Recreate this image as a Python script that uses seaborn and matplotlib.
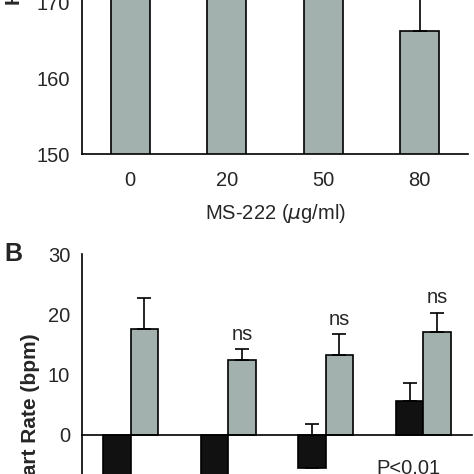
import matplotlib
matplotlib.use("Agg")
import matplotlib.pyplot as plt
import seaborn as sns
import pandas as pd
import numpy as np

sns.set_style("white")
plt.rcParams['font.family'] = ['Liberation Sans', 'DejaVu Sans']

doses = ["0", "20", "50", "80"]
top_vals = [175.0, 174.5, 175.5, 166.3]
top_err = [3.0, 3.0, 3.0, 7.0]

series = ["Before", "After"]
black_vals = [-10.0, -10.0, -5.5, 5.7]
black_err = [3.0, 3.0, 7.3, 2.9]
gray_vals = [17.6, 12.5, 13.2, 17.1]
gray_err = [5.2, 1.7, 3.5, 3.2]
ns_labels = ["", "ns", "ns", "ns"]

GRAY = "#a3b1ae"
FS = 14.5
fig = plt.figure(figsize=(4.74, 4.74), dpi=100)

# ---- Panel A ----
axA = fig.add_axes([82/474, 1-154/474, 386/474, 226.5/474])
dfA = pd.DataFrame({"dose": doses, "hr": top_vals})
sns.barplot(data=dfA, x="dose", y="hr", color=GRAY, width=0.4, edgecolor="black",
            linewidth=1.2, saturation=1, ax=axA)
xs = np.arange(len(doses))
axA.errorbar(xs, top_vals, yerr=[np.zeros(4), top_err], fmt="none", ecolor="black",
             elinewidth=1.2, capsize=5, capthick=1.2)
axA.set_ylim(150, 180)
axA.set_xlim(-0.5, 3.5)
axA.set_yticks([150, 160, 170])
axA.set_xticks(np.arange(-0.5, 4.0, 1.0))
axA.set_xticklabels([])
axA.set_xticks(xs, minor=True)
axA.set_xticklabels(doses, minor=True)
axA.tick_params(axis="x", which="minor", length=0, pad=12, labelsize=FS)
axA.tick_params(axis="x", which="major", length=5, width=1.2, direction="out")
axA.tick_params(axis="y", length=5, width=1.2, direction="out", labelsize=FS)
for s in ["top", "right"]:
    axA.spines[s].set_visible(False)
for s in ["left", "bottom"]:
    axA.spines[s].set_linewidth(1.2)
    axA.spines[s].set_color("black")
axA.set_xlabel("MS-222 ($\\mu$g/ml)", fontsize=FS, labelpad=9)
axA.set_ylabel("")

fig.text(15/474, 1-5/474, "Heart Rate (bpm)", rotation=90, va="bottom", ha="center",
         fontsize=15, fontweight="bold")

# ---- Panel B ----
axB = fig.add_axes([82/474, 1-555.6/474, 390/474, 301.5/474])
dfB = pd.DataFrame({"dose": doses * 2, "series": [series[0]] * 4 + [series[1]] * 4,
                    "hr": black_vals + gray_vals})
sns.barplot(data=dfB, x="dose", y="hr", hue="series", palette=["#111111", GRAY],
            width=0.56, edgecolor="black", linewidth=1.2, saturation=1, ax=axB, legend=False)
off = 0.14
axB.errorbar(xs - off, black_vals, yerr=[np.zeros(4), black_err], fmt="none", ecolor="black",
             elinewidth=1.2, capsize=5, capthick=1.2, zorder=0)
axB.errorbar(xs + off, gray_vals, yerr=[np.zeros(4), gray_err], fmt="none", ecolor="black",
             elinewidth=1.2, capsize=5, capthick=1.2)
for i, lab in enumerate(ns_labels):
    if lab:
        axB.text(xs[i] + off, gray_vals[i] + gray_err[i] + 0.9, lab, ha="center",
                 va="bottom", fontsize=FS)
axB.text(2.52, -4.0, "P<0.01", ha="left", va="top", fontsize=FS)
axB.set_ylim(-20, 30)
axB.set_xlim(-0.5, 3.5)
axB.set_yticks([0, 10, 20, 30])
axB.set_xticks(np.arange(-0.5, 4.0, 1.0))
axB.set_xticklabels([])
axB.spines["bottom"].set_position(("data", 0))
axB.tick_params(axis="x", length=5, width=1.2, direction="out")
axB.tick_params(axis="y", length=5, width=1.2, direction="out", labelsize=FS)
for s in ["top", "right"]:
    axB.spines[s].set_visible(False)
for s in ["left", "bottom"]:
    axB.spines[s].set_linewidth(1.2)
    axB.spines[s].set_color("black")
axB.set_xlabel("")
axB.set_ylabel("")

fig.text(30/474, 1-418/474, "Heart Rate (bpm)", rotation=90, va="center", ha="center",
         fontsize=15, fontweight="bold")
fig.text(4/474, 1-254/474, "B", fontsize=18, fontweight="bold", va="center", ha="left")

fig.savefig("out.png", dpi=100)
